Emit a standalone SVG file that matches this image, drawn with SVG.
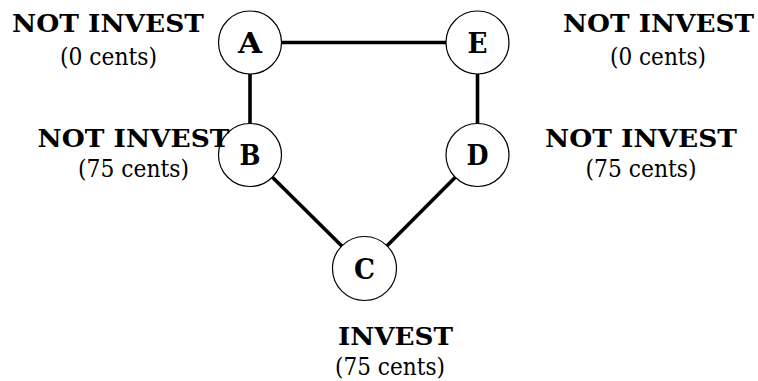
<svg xmlns="http://www.w3.org/2000/svg" width="758" height="381" viewBox="0 0 758 381">
  <style>
    .edge { stroke: #000; stroke-width: 3.6; fill: none; stroke-linecap: butt; }
    .node circle { fill: #fff; stroke: #000; stroke-width: 1.2; }
    .serif { font-family: 'DejaVu Serif', 'Liberation Serif', serif; }
    .node text { font-weight: bold; font-size: 27px; text-anchor: middle; fill: #000; }
    .title { font-weight: bold; font-size: 25px; text-anchor: middle; fill: #000; }
    .value { font-size: 25px; text-anchor: middle; fill: #000; }
  </style>
  <rect width="758" height="381" fill="#fff"/>

  <!-- connectors -->
  <g id="edges">
    <line class="edge" x1="281.5" y1="42.5" x2="446" y2="42.5"/>
    <line class="edge" x1="250" y1="74" x2="250" y2="123.5"/>
    <line class="edge" x1="477.5" y1="74" x2="477.5" y2="123.5"/>
    <line class="edge" x1="272.4" y1="177.2" x2="341.8" y2="246"/>
    <line class="edge" x1="455.3" y1="177.3" x2="387.1" y2="245.8"/>
  </g>

  <!-- nodes -->
  <g class="serif">
    <g id="A" class="node">
      <circle cx="250" cy="42.5" r="31.5"/>
      <text x="250" y="52.5" textLength="24" lengthAdjust="spacingAndGlyphs">A</text>
    </g>
    <g id="E" class="node">
      <circle cx="477.5" cy="42.5" r="31.5"/>
      <text x="477.5" y="52.5" textLength="20" lengthAdjust="spacingAndGlyphs">E</text>
    </g>
    <g id="B" class="node">
      <circle cx="250" cy="155" r="31.5"/>
      <text x="250" y="165" textLength="21" lengthAdjust="spacingAndGlyphs">B</text>
    </g>
    <g id="D" class="node">
      <circle cx="477.5" cy="155" r="31.5"/>
      <text x="477.5" y="165" textLength="22" lengthAdjust="spacingAndGlyphs">D</text>
    </g>
    <g id="C" class="node">
      <circle cx="364.5" cy="268.5" r="32"/>
      <text x="364.5" y="278.5" textLength="21" lengthAdjust="spacingAndGlyphs">C</text>
    </g>
  </g>

  <!-- labels -->
  <g id="labels" class="serif">
    <text class="title" x="108" y="32" textLength="192" lengthAdjust="spacingAndGlyphs">NOT INVEST</text>
    <text class="value" x="108.5" y="64.5" textLength="97" lengthAdjust="spacingAndGlyphs">(0 cents)</text>

    <text class="title" x="133.5" y="146.5" textLength="192" lengthAdjust="spacingAndGlyphs">NOT INVEST</text>
    <text class="value" x="133.5" y="177" textLength="111" lengthAdjust="spacingAndGlyphs">(75 cents)</text>

    <text class="title" x="658.5" y="32" textLength="191" lengthAdjust="spacingAndGlyphs">NOT INVEST</text>
    <text class="value" x="658" y="64.5" textLength="96" lengthAdjust="spacingAndGlyphs">(0 cents)</text>

    <text class="title" x="641" y="146.5" textLength="192" lengthAdjust="spacingAndGlyphs">NOT INVEST</text>
    <text class="value" x="641" y="177" textLength="111" lengthAdjust="spacingAndGlyphs">(75 cents)</text>

    <text class="title" x="395.5" y="345" textLength="115" lengthAdjust="spacingAndGlyphs">INVEST</text>
    <text class="value" x="390" y="375" textLength="110" lengthAdjust="spacingAndGlyphs">(75 cents)</text>
  </g>
</svg>
